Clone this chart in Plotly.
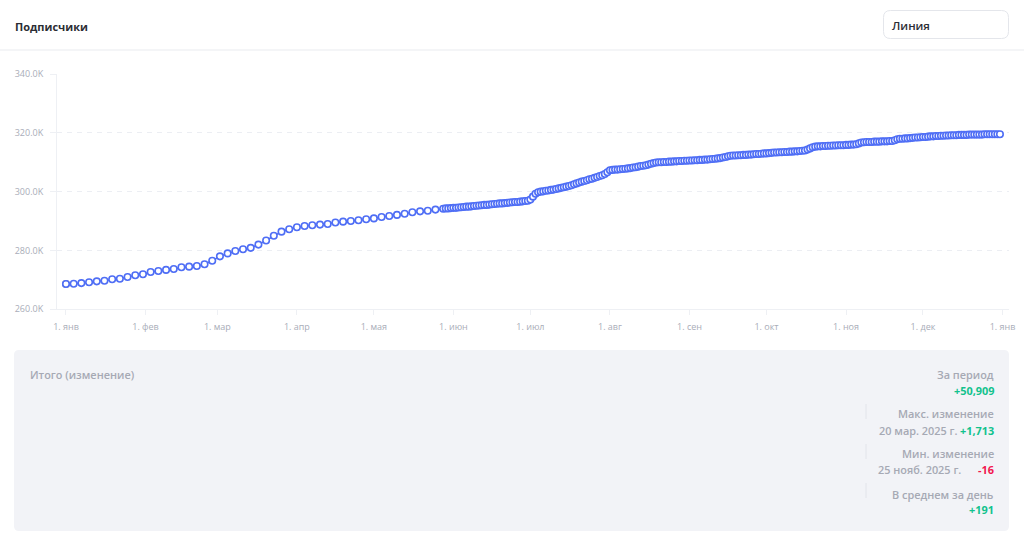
import pandas as pd
import plotly.graph_objects as go

# ---------------- data ----------------
title_text = "Подписчики"
mode_text = "Линия"

# every third day, 1 Jan .. 25 May 2025 (thousands of subscribers)
sparse_start = "2025-01-01"
sparse_values = [
    268.6, 268.7, 268.9, 269.2, 269.5, 269.7, 270.2, 270.4, 271.0, 271.6,
    271.9, 272.7, 273.0, 273.4, 273.7, 274.3, 274.5, 274.7, 275.3, 276.5,
    278.0, 279.0, 279.8, 280.4, 280.9, 282.0, 283.4, 285.0, 286.4, 287.2,
    287.9, 288.3, 288.6, 288.8, 289.0, 289.5, 289.8, 290.0, 290.3, 290.6,
    290.9, 291.4, 291.7, 292.1, 292.5, 293.0, 293.3, 293.5, 293.9,
]

# daily, 28 May .. 31 Dec 2025 (thousands of subscribers)
daily_start = "2025-05-28"
daily_values = [
    294.2, 294.3, 294.3, 294.4, 294.5, 294.5, 294.6, 294.7, 294.8, 294.9,
    294.9, 295.0, 295.1, 295.2, 295.3, 295.4, 295.5, 295.5, 295.6, 295.7,
    295.8, 295.9, 296.0, 296.0, 296.1, 296.2, 296.3, 296.4, 296.5, 296.5,
    296.6, 296.7, 296.8, 296.9, 297.3, 298.3, 299.3, 299.8, 300.0, 300.1,
    300.3, 300.4, 300.6, 300.7, 300.9, 301.1, 301.3, 301.5, 301.7, 301.9,
    302.2, 302.5, 302.8, 303.1, 303.4, 303.6, 303.9, 304.2, 304.4, 304.7,
    305.0, 305.3, 305.6, 306.0, 306.6, 307.3, 307.4, 307.5, 307.5, 307.6,
    307.7, 307.8, 307.9, 308.0, 308.2, 308.3, 308.5, 308.7, 308.8, 309.0,
    309.2, 309.5, 309.7, 309.9, 310.0, 310.0, 310.1, 310.1, 310.2, 310.2,
    310.3, 310.3, 310.4, 310.4, 310.5, 310.5, 310.6, 310.6, 310.7, 310.7,
    310.8, 310.8, 310.9, 310.9, 311.0, 311.1, 311.2, 311.3, 311.4, 311.6,
    311.8, 312.0, 312.2, 312.3, 312.3, 312.4, 312.4, 312.5, 312.5, 312.6,
    312.6, 312.7, 312.8, 312.8, 312.9, 313.0, 313.0, 313.1, 313.2, 313.3,
    313.3, 313.4, 313.4, 313.5, 313.5, 313.6, 313.6, 313.7, 313.7, 313.8,
    313.9, 314.0, 314.3, 314.7, 315.1, 315.3, 315.4, 315.4, 315.5, 315.5,
    315.6, 315.6, 315.7, 315.7, 315.8, 315.8, 315.8, 315.9, 315.9, 316.0,
    316.0, 316.1, 316.4, 316.7, 316.8, 316.9, 316.9, 316.9, 317.0, 317.0,
    317.0, 317.1, 317.1, 317.1, 317.2, 317.2, 317.5, 317.8, 318.0, 318.0,
    318.1, 318.1, 318.2, 318.3, 318.4, 318.4, 318.5, 318.6, 318.6, 318.7,
    318.8, 318.8, 318.9, 318.9, 319.0, 319.0, 319.1, 319.1, 319.2, 319.2,
    319.2, 319.3, 319.3, 319.3, 319.3, 319.4, 319.4, 319.4, 319.4, 319.4,
    319.4, 319.5, 319.5, 319.5, 319.5, 319.5, 319.5, 319.5,
]

y_tick_values = [260, 280, 300, 320, 340]
y_tick_labels = ["260.0K", "280.0K", "300.0K", "320.0K", "340.0K"]

x_tick_dates = ["2025-01-01", "2025-02-01", "2025-03-01", "2025-04-01", "2025-05-01",
                "2025-06-01", "2025-07-01", "2025-08-01", "2025-09-01", "2025-10-01",
                "2025-11-01", "2025-12-01", "2026-01-01"]
x_tick_labels = ["1. янв", "1. фев", "1. мар", "1. апр", "1. мая", "1. июн", "1. июл",
                 "1. авг", "1. сен", "1. окт", "1. ноя", "1. дек", "1. янв"]

summary_title = "Итого (изменение)"
summary_labels = ["За период", "Макс. изменение", "Мин. изменение", "В среднем за день"]
summary_dates = ["", "20 мар. 2025 г.", "25 нояб. 2025 г.", ""]
summary_values = ["+50,909", "+1,713", "-16", "+191"]

# ---------------- build ----------------
sparse_dates = pd.date_range(sparse_start, periods=len(sparse_values), freq="3D")
daily_dates = pd.date_range(daily_start, periods=len(daily_values), freq="D")
dates = list(sparse_dates) + list(daily_dates)
values = sparse_values + daily_values

W, H = 1024, 545
def px(x):
    return x / W
def py(y):
    return 1 - y / H

BLUE = "#4f6ef5"
GREY_TXT = "#a6a9b4"
TICK_TXT = "#a9adb8"
GREEN = "#12c28d"
RED = "#f2184f"
FONT = "Open Sans"
SZ = 10.9

fig = go.Figure()
fig.add_trace(go.Scatter(
    x=[dates[0]], y=[values[0]], mode="markers",
    marker=dict(size=7, color="#b9bcc6", line=dict(width=1.2, color="#9ea2ad")),
    hoverinfo="skip", showlegend=False,
))
fig.add_trace(go.Scatter(
    x=dates, y=values, mode="lines+markers",
    line=dict(color=BLUE, width=1.6),
    marker=dict(size=6.5, color="white", line=dict(width=1.6, color=BLUE)),
    showlegend=False,
))

def rounded_rect(x0, y0, x1, y1, r):
    X0, X1 = px(x0), px(x1)
    Y0, Y1 = py(y0), py(y1)
    rx, ry = r / W, r / H
    return (f"M {X0+rx},{Y0} L {X1-rx},{Y0} Q {X1},{Y0} {X1},{Y0-ry} "
            f"L {X1},{Y1+ry} Q {X1},{Y1} {X1-rx},{Y1} L {X0+rx},{Y1} "
            f"Q {X0},{Y1} {X0},{Y1+ry} L {X0},{Y0-ry} Q {X0},{Y0} {X0+rx},{Y0} Z")

shapes = [
    dict(type="line", xref="paper", yref="paper", x0=0, x1=1, y0=py(50), y1=py(50),
         line=dict(color="#f1f2f5", width=1.5)),
    dict(type="path", xref="paper", yref="paper", path=rounded_rect(883.5, 10.5, 1008.5, 38.5, 7),
         line=dict(color="#e4e6eb", width=1), fillcolor="white"),
    dict(type="path", xref="paper", yref="paper", path=rounded_rect(14, 350, 1009, 531, 5),
         line=dict(width=0), fillcolor="#f2f3f7", layer="below"),
]
for (ya, yb) in [(404, 419), (444, 459), (483, 498)]:
    shapes.append(dict(type="line", xref="paper", yref="paper", x0=px(866), x1=px(866),
                       y0=py(ya), y1=py(yb), line=dict(color="#e2e4ea", width=1)))

ann = [
    dict(text=title_text, x=px(12.5), y=py(26), xanchor="left", yanchor="middle",
         font=dict(family=FONT, size=11, color="#2b2d34", weight=700)),
    dict(text=mode_text, x=px(890), y=py(25.5), xanchor="left", yanchor="middle",
         font=dict(family=FONT, size=11.5, color="#2b2d34", weight=600)),
    dict(text=summary_title, x=px(27.5), y=py(374), xanchor="left", yanchor="middle",
         font=dict(family=FONT, size=SZ, color=GREY_TXT, weight=600)),
]
label_y = [374, 413, 453, 494]
value_y = [390, 430, 469, 509]
date_right = [None, 959, 963, None]
for i in range(4):
    ann.append(dict(text=summary_labels[i], x=px(996), y=py(label_y[i]), xanchor="right",
                    yanchor="middle", font=dict(family=FONT, size=SZ, color=GREY_TXT, weight=600)))
    col = RED if summary_values[i].startswith("-") else GREEN
    ann.append(dict(text=summary_values[i], x=px(996), y=py(value_y[i]), xanchor="right",
                    yanchor="middle", font=dict(family=FONT, size=SZ, color=col, weight=700)))
    if summary_dates[i]:
        ann.append(dict(text=summary_dates[i], x=px(date_right[i]), y=py(value_y[i]),
                        xanchor="right", yanchor="middle",
                        font=dict(family=FONT, size=SZ, color=GREY_TXT, weight=600)))
for a in ann:
    a.update(xref="paper", yref="paper", showarrow=False)

fig.update_layout(
    width=W, height=H, autosize=False,
    margin=dict(l=0, r=0, t=0, b=0, pad=0, autoexpand=False),
    paper_bgcolor="white", plot_bgcolor="white",
    shapes=shapes, annotations=ann,
    font=dict(family=FONT),
    xaxis=dict(
        domain=[px(57), px(1008.5)],
        type="date",
        range=["2024-12-28 12:00", "2026-01-03 08:00"],
        tickvals=x_tick_dates, ticktext=x_tick_labels,
        showgrid=False, zeroline=False, automargin=False,
        showline=True, linecolor="#eef0f4", linewidth=1,
        ticks="outside", ticklen=5, tickcolor="#eef0f4",
        ticklabelstandoff=4,
        tickfont=dict(family=FONT, size=9, color=TICK_TXT),
        fixedrange=True,
    ),
    yaxis=dict(
        domain=[py(309.3), py(74)],
        range=[260, 340],
        tickvals=y_tick_values, ticktext=y_tick_labels,
        showgrid=True, gridcolor="#eceef3", griddash="5px,5px", gridwidth=1,
        zeroline=False, automargin=False,
        showline=True, linecolor="#eef0f4", linewidth=1,
        ticks="outside", ticklen=6, tickcolor="#eef0f4",
        ticklabelstandoff=5,
        tickfont=dict(family=FONT, size=9, color=TICK_TXT),
        fixedrange=True,
    ),
)

fig.write_html("out.html", config={"displayModeBar": False, "responsive": False})

# remove the default page margin so the 1024x545 figure fills the window exactly
with open("out.html", "r", encoding="utf-8") as f:
    html = f.read()
css = "<style>html,body{margin:0;padding:0;overflow:hidden;}</style>"
html = html.replace("<head>", "<head>" + css, 1)
with open("out.html", "w", encoding="utf-8") as f:
    f.write(html)
